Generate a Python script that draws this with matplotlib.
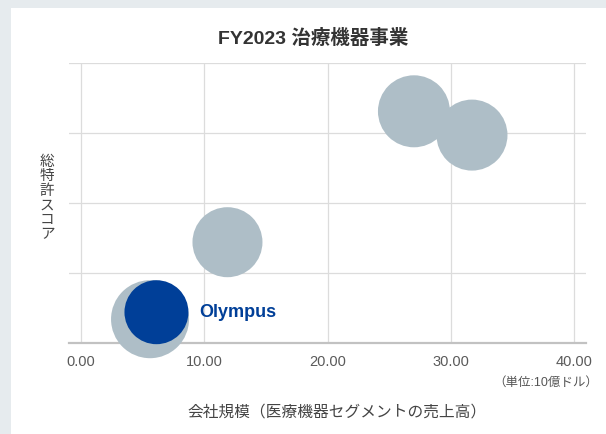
import matplotlib.pyplot as plt
from matplotlib.patches import Rectangle

# Data
companies = ["A", "B", "C", "Olympus (total)", "Olympus"]
revenue = [27.0, 31.7, 11.9, 5.63, 6.15]      # 10億ドル
patent_score = [3.31, 2.97, 1.44, 0.34, 0.44]
bubble_value = [36, 35.5, 35, 39, 32]          # relative bubble radius
x_ticks = [0, 10, 20, 30, 40]
x_tick_labels = ["0.00", "10.00", "20.00", "30.00", "40.00"]
y_ticks = [0, 1, 2, 3, 4]

GRAY = "#aebec7"
BLUE = "#003f98"
FONTS = ["Liberation Sans", "Noto Sans CJK JP", "DejaVu Sans"]
plt.rcParams["font.family"] = FONTS

fig = plt.figure(figsize=(6.06, 4.35), dpi=100)
fig.patch.set_facecolor("#e6ebee")
fig.patches.append(Rectangle((11 / 606, 0), 1, 1 - 9 / 435, transform=fig.transFigure,
                             facecolor="white", edgecolor="none", zorder=-10))

ax = fig.add_axes([69.4 / 606, 91 / 435, 516.2 / 606, 280 / 435])
ax.set_facecolor("none")
ax.set_xlim(-0.9, 40.9)
ax.set_ylim(0, 4)

ax.set_xticks(x_ticks)
ax.set_xticklabels(x_tick_labels)
ax.set_yticks(y_ticks)
ax.set_yticklabels([])
ax.tick_params(length=0, pad=8, labelsize=10.5, colors="#5a5a5a")
ax.grid(True, color="#dcdcdc", linewidth=0.9)
ax.set_axisbelow(True)
for s in ["top", "right", "left"]:
    ax.spines[s].set_visible(False)
ax.spines["bottom"].set_color("#c2c2c2")
ax.spines["bottom"].set_linewidth(1.6)
ax.spines["bottom"].set_zorder(1)

# px radius -> scatter area in pt^2
sizes = [(2 * r * 0.72) ** 2 for r in bubble_value]
colors = [GRAY, GRAY, GRAY, GRAY, BLUE]
for x, y, s, c in zip(revenue, patent_score, sizes, colors):
    ax.scatter(x, y, s=s, color=c, edgecolors="none", clip_on=False, zorder=3)

ax.text(9.6, 0.45, "Olympus", color=BLUE, fontsize=13, fontweight="bold",
        va="center", ha="left", zorder=4)

fig.text(313 / 606, 1 - 38 / 435, "FY2023 治療機器事業", ha="center", va="center",
         fontsize=14, fontweight="bold", color="#333333")
fig.text(47 / 606, 1 - 198 / 435, "\n".join("総特許スコア"), ha="center", va="center",
         fontsize=10.5, color="#444444", linespacing=1.05)
fig.text(337 / 606, 1 - 412 / 435, "会社規模（医療機器セグメントの売上高）", ha="center",
         va="center", fontsize=11.3, color="#444444")
fig.text(598 / 606, 1 - 383 / 435, "（単位:10億ドル）", ha="right", va="center",
         fontsize=9, color="#555555")

fig.savefig("out.png", dpi=100, facecolor=fig.get_facecolor())
